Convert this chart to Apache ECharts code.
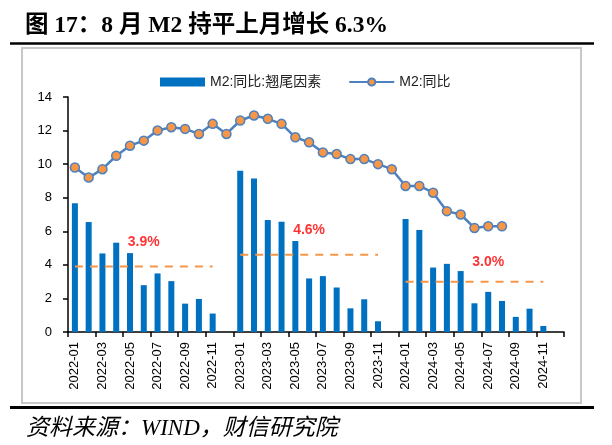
<!DOCTYPE html>
<html>
<head>
<meta charset="utf-8">
<script src="https://cdn.jsdelivr.net/npm/echarts@6/dist/echarts.min.js"></script>
<style>
html,body{margin:0;padding:0;background:#fff;}
#c{width:612px;height:445px;}
</style>
</head>
<body>
<div id="c"></div>
<script>
const categories = [
  '2022-01','2022-02','2022-03','2022-04','2022-05','2022-06','2022-07','2022-08','2022-09','2022-10','2022-11','2022-12',
  '2023-01','2023-02','2023-03','2023-04','2023-05','2023-06','2023-07','2023-08','2023-09','2023-10','2023-11','2023-12',
  '2024-01','2024-02','2024-03','2024-04','2024-05','2024-06','2024-07','2024-08','2024-09','2024-10','2024-11','2024-12'
];
const tailFactor = [
  7.67,6.55,4.68,5.32,4.70,2.79,3.49,3.03,1.69,1.97,1.10,null,
  9.60,9.14,6.67,6.57,5.42,3.19,3.33,2.65,1.41,1.95,0.64,null,
  6.73,6.08,3.84,4.06,3.63,1.71,2.39,1.85,0.90,1.39,0.36,null
];
const m2Yoy = [
  9.8,9.2,9.7,10.5,11.1,11.4,12.0,12.2,12.1,11.8,12.4,11.8,
  12.6,12.9,12.7,12.4,11.6,11.3,10.7,10.6,10.3,10.3,10.0,9.7,
  8.7,8.7,8.3,7.2,7.0,6.2,6.3,6.3,null,null,null,null
];
// yearly average of tail factor, spanning Jan..Nov of each year
const avgValues = [3.9, 4.6, 3.0];
const avgStart = ['2022-01','2023-01','2024-01'];
const avgEnd = ['2022-11','2023-11','2024-11'];
const avgLabelAt = ['2022-06','2023-06','2024-07'];
const avgLabelText = ['3.9%','4.6%','3.0%'];
const yTicks = {min:0, max:14, interval:2};

const avgSeries = avgValues.map((v, k) => {
  const s = categories.indexOf(avgStart[k]);
  const e = categories.indexOf(avgEnd[k]);
  return {
    type:'line', name:'avg'+k, silent:true, symbol:'none',
    data: categories.map((c, i) => (i >= s && i <= e) ? v : null),
    lineStyle:{color:'#F79646', width:2, type:[8,7]},
    z:3
  };
});
const labelSeries = {
  type:'scatter', name:'avgLabel', silent:true, symbolSize:1,
  itemStyle:{color:'rgba(0,0,0,0)'},
  data: avgValues.map((v, k) => ({
    value:[avgLabelAt[k], v],
    label:{formatter:avgLabelText[k], distance: k===2 ? 12 : 17}
  })),
  label:{show:true, position:'top', color:'#FF0000', fontWeight:'bold', fontSize:14,
         fontFamily:'"Liberation Sans", Arial, sans-serif'},
  z:5
};

const chart = echarts.init(document.getElementById('c'), null, {renderer:'canvas'});
const baseFont = '"Liberation Sans", Arial, "Noto Sans CJK SC", sans-serif';
chart.setOption({
  animation:false,
  backgroundColor:'#fff',
  textStyle:{fontFamily:baseFont},
  graphic:{elements:[
    {type:'line', z:10, shape:{x1:10, y1:43.5, x2:594, y2:43.5}, style:{stroke:'#000', lineWidth:2.7}},
    {type:'line', z:10, shape:{x1:10, y1:407.5, x2:594, y2:407.5}, style:{stroke:'#000', lineWidth:3}},
    {type:'text', left:25, top:14,
     style:{text:'图 17：8 月 M2 持平上月增长 6.3%', fill:'#000',
            font:'bold 23.5px "Liberation Serif", "Noto Sans CJK SC", serif'}},
    {type:'text', left:26, top:417,
     style:{text:'资料来源：WIND，财信研究院', fill:'#000',
            font:'italic 23px "Liberation Serif", "Noto Sans CJK SC", serif'}}
  ]},
  legend:{
    left:155, top:70, itemGap:27, itemWidth:45, itemHeight:9,
    textStyle:{fontSize:14, color:'#222', fontFamily:baseFont},
    data:[{name:'M2:同比:翘尾因素', icon:'rect'}, {name:'M2:同比'}]
  },
  grid:[
    {left:68, right:48, top:97, bottom:113, containLabel:false},
    {left:22, top:48, width:559, height:355, show:true, borderColor:'#c8c8c8', borderWidth:2,
     backgroundColor:'transparent', z:0}
  ],
  xAxis:[{
    type:'category', data:categories, boundaryGap:true, gridIndex:0,
    axisLine:{lineStyle:{color:'#000', width:1.5}},
    axisTick:{show:true, interval:1, alignWithLabel:false, length:5, lineStyle:{color:'#000', width:1.5}},
    axisLabel:{interval:1, rotate:90, fontSize:13, color:'#000', margin:10},
    splitLine:{show:false}
  },{
    type:'value', gridIndex:1, show:false, min:0, max:1
  }],
  yAxis:[{
    type:'value', min:yTicks.min, max:yTicks.max, interval:yTicks.interval, gridIndex:0,
    axisLine:{show:true, lineStyle:{color:'#000', width:1.5}},
    axisTick:{show:true, length:5, lineStyle:{color:'#000', width:1.5}},
    axisLabel:{fontSize:13, color:'#000', margin:16},
    splitLine:{show:false}
  },{
    type:'value', gridIndex:1, show:false, min:0, max:1, splitLine:{show:false}
  }],
  series:[
    {type:'bar', name:'M2:同比:翘尾因素', data:tailFactor, barWidth:6,
     itemStyle:{color:'#0070C0'}, z:2},
    ...avgSeries,
    {type:'line', name:'M2:同比', data:m2Yoy, symbol:'circle', symbolSize:9,
     lineStyle:{color:'#4F81BD', width:2.5},
     itemStyle:{color:'#F79646', borderColor:'#4F81BD', borderWidth:1.5},
     z:4},
    labelSeries
  ]
});
</script>
</body>
</html>
